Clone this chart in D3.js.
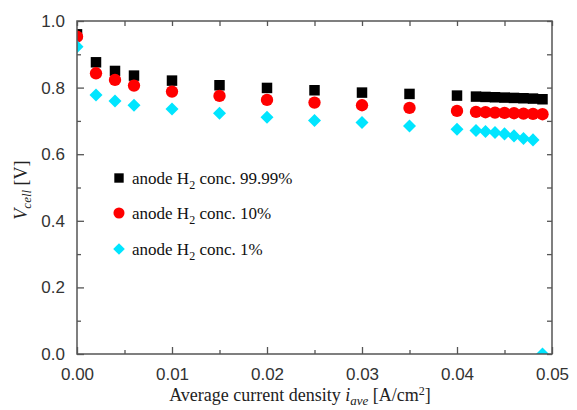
<!DOCTYPE html>
<html><head><meta charset="utf-8">
<script src="https://cdn.jsdelivr.net/npm/d3@7"></script>
<style>body{margin:0;background:#fff}</style>
</head><body>
<svg id="c" width="577" height="410"></svg>
<script>
const currentDensity = [0, 0.002, 0.004, 0.006, 0.01, 0.015, 0.02, 0.025, 0.03, 0.035, 0.04, 0.042, 0.043, 0.044, 0.045, 0.046, 0.047, 0.048, 0.049];
const v9999 = [0.960, 0.876, 0.850, 0.836, 0.821, 0.807, 0.799, 0.792, 0.785, 0.781, 0.776, 0.773, 0.772, 0.771, 0.770, 0.769, 0.768, 0.767, 0.765];
const v10 = [0.953, 0.843, 0.823, 0.806, 0.788, 0.775, 0.763, 0.755, 0.747, 0.739, 0.730, 0.727, 0.726, 0.725, 0.724, 0.723, 0.722, 0.721, 0.720];
const v1 = [0.923, 0.778, 0.760, 0.747, 0.736, 0.723, 0.711, 0.701, 0.695, 0.685, 0.675, 0.671, 0.668, 0.665, 0.661, 0.655, 0.647, 0.643, 0.0];
const seriesNames = ["anode H2 conc. 99.99%", "anode H2 conc. 10%", "anode H2 conc. 1%"];
const xTicks = [0, 0.01, 0.02, 0.03, 0.04, 0.05];
const yTicks = [0, 0.2, 0.4, 0.6, 0.8, 1.0];

const svg = d3.select("#c");
const L = 77, R = 552, T = 21, B = 354;
const x = d3.scaleLinear().domain([0, 0.05]).range([L, R]);
const y = d3.scaleLinear().domain([0, 1]).range([B, T]);
const axisColor = "#555";
const labelFont = "Liberation Sans, Arial, sans-serif";
const serif = "Liberation Serif, Times New Roman, serif";

svg.append("defs").append("clipPath").attr("id", "clip")
  .append("rect").attr("x", L).attr("y", T - 10).attr("width", R - L).attr("height", B - T + 10);

const xMinor = d3.range(0.005, 0.05, 0.01);
const yMinor = d3.range(0.1, 1.0, 0.2);

function styleAxis(g) {
  g.select(".domain").remove();
  g.selectAll(".tick line").attr("stroke", axisColor).attr("stroke-width", 1.3);
  g.selectAll(".tick text").attr("fill", "#333").attr("font-family", labelFont).attr("font-size", 17);
}

// data
const series = [
  {name: seriesNames[0], vals: v9999, color: "#000000", sym: d3.symbolSquare, size: 110, rot: 0},
  {name: seriesNames[1], vals: v10, color: "#ff0000", sym: d3.symbolCircle, size: 120, rot: 0},
  {name: seriesNames[2], vals: v1, color: "#00e5ff", sym: d3.symbolSquare, size: 85, rot: 45}
];
const plot = svg.append("g").attr("clip-path", "url(#clip)");
series.forEach(s => {
  plot.selectAll(null).data(currentDensity.map((c, i) => [c, s.vals[i]])).enter()
    .append("path")
    .attr("d", d3.symbol().type(s.sym).size(s.size))
    .attr("transform", d => `translate(${x(d[0])},${y(d[1])}) rotate(${s.rot})`)
    .attr("fill", s.color);
});

// frame
svg.append("rect").attr("x", L).attr("y", T).attr("width", R - L).attr("height", B - T)
  .attr("fill", "none").attr("stroke", axisColor).attr("stroke-width", 1.5);

// bottom
svg.append("g").attr("transform", `translate(0,${B})`)
  .call(d3.axisBottom(x).tickValues(xTicks).tickFormat(d3.format(".2f")).tickSizeInner(-7).tickSizeOuter(0).tickPadding(14))
  .call(styleAxis);
svg.append("g").attr("transform", `translate(0,${B})`)
  .call(d3.axisBottom(x).tickValues(xMinor).tickFormat("").tickSizeInner(-4).tickSizeOuter(0))
  .call(styleAxis);
// top
svg.append("g").attr("transform", `translate(0,${T})`)
  .call(d3.axisTop(x).tickValues(xTicks.concat(xMinor)).tickFormat("").tickSizeInner(-5).tickSizeOuter(0))
  .call(styleAxis);
// left
svg.append("g").attr("transform", `translate(${L},0)`)
  .call(d3.axisLeft(y).tickValues(yTicks).tickFormat(d3.format(".1f")).tickSizeInner(-7).tickSizeOuter(0).tickPadding(12))
  .call(styleAxis);
svg.append("g").attr("transform", `translate(${L},0)`)
  .call(d3.axisLeft(y).tickValues(yMinor).tickFormat("").tickSizeInner(-4).tickSizeOuter(0))
  .call(styleAxis);
// right
svg.append("g").attr("transform", `translate(${R},0)`)
  .call(d3.axisRight(y).tickValues(yTicks.concat(yMinor)).tickFormat("").tickSizeInner(-5).tickSizeOuter(0))
  .call(styleAxis);

// legend
const legY = [178, 213, 249];
series.forEach((s, i) => {
  svg.append("path").attr("d", d3.symbol().type(s.sym).size(s.size * 0.8))
    .attr("transform", `translate(119,${legY[i]}) rotate(${s.rot})`).attr("fill", s.color);
  const parts = s.name.split("H2");
  const t = svg.append("text").attr("x", 132).attr("y", legY[i] + 6)
    .attr("font-family", serif).attr("font-size", 17).attr("fill", "#111");
  t.append("tspan").text(parts[0] + "H");
  t.append("tspan").text("2").attr("font-size", 12).attr("dy", 5);
  t.append("tspan").text(parts[1]).attr("dy", -5);
});

// axis titles
const xt = svg.append("text").attr("x", 300).attr("y", 401).attr("text-anchor", "middle")
  .attr("font-family", serif).attr("font-size", 18).attr("fill", "#222");
xt.append("tspan").text("Average current density ");
xt.append("tspan").text("i").attr("font-style", "italic");
xt.append("tspan").text("ave").attr("font-style", "italic").attr("font-size", 13).attr("dy", 4);
xt.append("tspan").text(" [A/cm").attr("dy", -4);
xt.append("tspan").text("2").attr("font-size", 12).attr("dy", -6);
xt.append("tspan").text("]").attr("dy", 6);

const yt = svg.append("text").attr("transform", "translate(27,190) rotate(-90)").attr("text-anchor", "middle")
  .attr("font-family", serif).attr("font-size", 18).attr("fill", "#222");
yt.append("tspan").text("V").attr("font-style", "italic");
yt.append("tspan").text("cell").attr("font-style", "italic").attr("font-size", 13).attr("dy", 4);
yt.append("tspan").text(" [V]").attr("dy", -4);
</script>
</body></html>
